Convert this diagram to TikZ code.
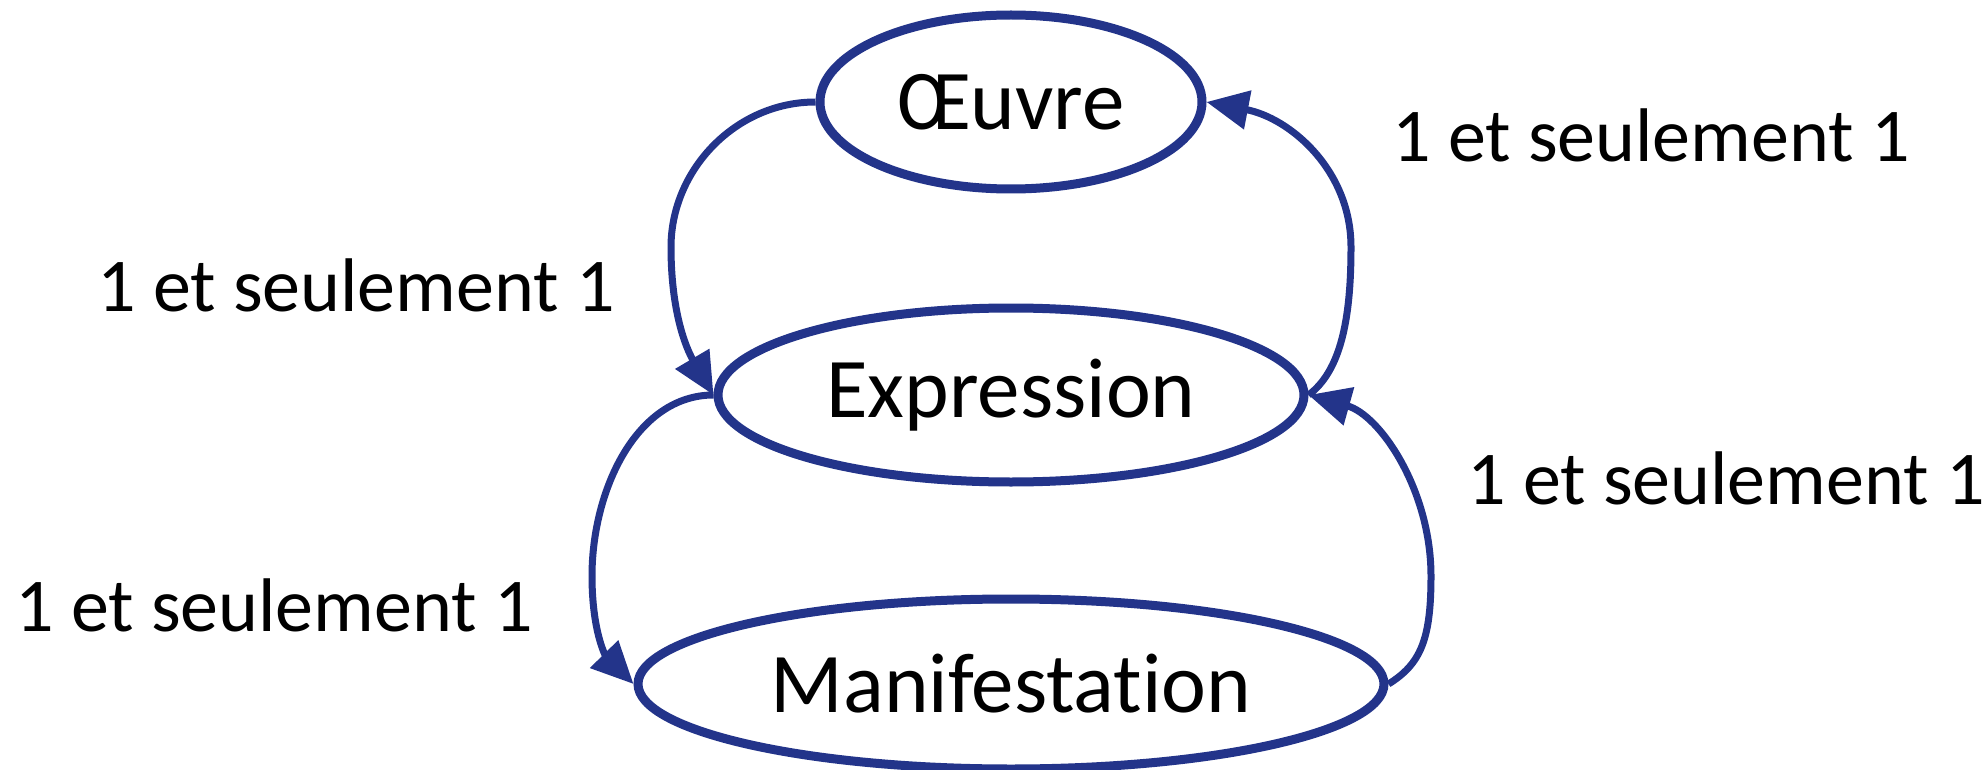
\documentclass[tikz,border=0pt]{standalone}
\usepackage{fontspec}
\setmainfont{Carlito}[Ligatures=NoCommon]
\usetikzlibrary{shapes.geometric,arrows.meta}
\definecolor{frbr}{RGB}{35,52,138}
\tikzset{
  entity/.style={ellipse, draw=frbr, line width=9pt, inner sep=0pt, fill=white,
    font=\fontsize{85}{92}\selectfont},
  link/.style={draw=frbr, line width=7pt, -{Triangle[length=42pt,width=38pt]}},
  card/.style={inner sep=0pt, font=\fontsize{76}{84}\selectfont}
}
\begin{document}
\begin{tikzpicture}[x=1pt,y=-1pt]
\useasboundingbox (0,0) rectangle (1984,770);
\node[entity, minimum width=382pt, minimum height=174pt] (oeuvre) at (1011,102) {Œuvre};
\node[entity, minimum width=586pt, minimum height=174pt] (expr) at (1011,395) {Expression};
\node[entity, minimum width=746pt, minimum height=170pt] (manif) at (1011,684) {Manifestation};
\coordinate (m1) at (671,247);
\coordinate (m2) at (1351,247);
\coordinate (m3) at (592,576);
\coordinate (m4) at (1431,576);
\draw[link] (oeuvre.west) .. controls +(-80,0) and (671,170) .. (m1)
  .. controls (671,320) and (690,355) .. (expr.west);
\draw[link] (expr.east) .. controls +(32,-24) and (1351,320) .. (m2)
  .. controls (1351,170) and (1290,118) .. (oeuvre.east);
\draw[link] (expr.west) .. controls +(-77,0) and (592,490) .. (m3)
  .. controls (592,630) and (605,655) .. (manif.west);
\draw[link] (manif.east) .. controls +(32,-20) and (1431,640) .. (m4)
  .. controls (1431,490) and (1380,415) .. (expr.east);
\node[card] (l1) at (356,285) {1 et seulement 1};
\node[card] (l2) at (1651,135) {1 et seulement 1};
\node[card] (l3) at (1726,478) {1 et seulement 1};
\node[card] (l4) at (274,605) {1 et seulement 1};
\end{tikzpicture}
\end{document}
